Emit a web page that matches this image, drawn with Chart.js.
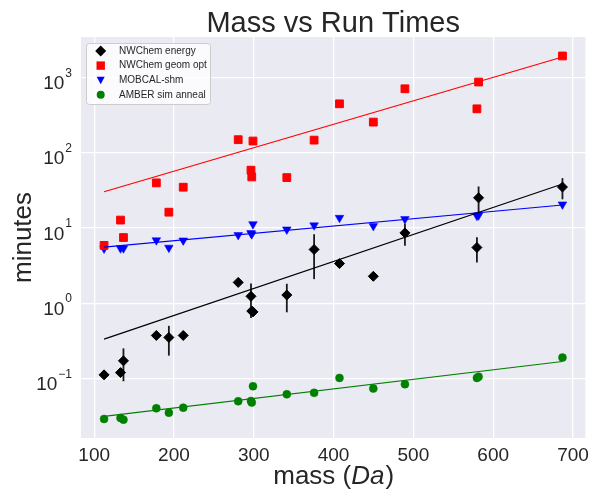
<!DOCTYPE html>
<html>
<head>
<meta charset="utf-8">
<script src="https://cdn.jsdelivr.net/npm/chart.js@4"></script>
<style>
  html, body { margin: 0; padding: 0; background: #fff; }
</style>
</head>
<body>
<canvas id="massChart" width="595" height="489"></canvas>
<script>
// values
var mass = [112.4, 133.0, 136.7, 177.9, 193.6, 211.6, 280.5, 296.5, 297.5, 299.0, 341.4, 375.6, 407.4, 449.8, 489.4, 579.6, 581.7, 686.8];
var energy = [0.112, 0.12, 0.172, 0.374, 0.352, 0.374, 1.9, 1.24, 0.79, 0.77, 1.29, 5.2, 3.38, 2.29, 8.65, 5.53, 25.3, 35.2];
var energyErr = [0, 0, 0.08, 0, 0.15, 0.02, 0, 0.6, 0, 0, 0.53, 3.1, 0, 0, 2.8, 2.05, 10.5, 11];
var geomOpt = [5.9, 12.8, 7.5, 40, 16.3, 35, 150, 59, 48, 144, 47, 148, 450, 257, 713, 386, 877, 1946];
var mobcal = [5.36, 5.4, 5.4, 6.9, 5.5, 6.86, 8.1, 8.6, 8.3, 11.3, 9.6, 10.9, 13.7, 10.7, 13.2, 14.6, 14.8, 20.7];
var amber = [0.029, 0.0299, 0.0284, 0.0402, 0.0352, 0.041, 0.0499, 0.0503, 0.0479, 0.079, 0.0618, 0.0645, 0.102, 0.0736, 0.084, 0.102, 0.106, 0.19];

// fitted trend lines, end points only
var fitMass = [112.4, 686.8];
var fitEnergy = [0.334, 38.6];
var fitGeom = [30.5, 1888];
var fitMobcal = [5.6, 20.3];
var fitAmber = [0.0315, 0.1686];

var xTicks = [100, 200, 300, 400, 500, 600, 700];
var yTicks = [0.1, 1, 10, 100, 1000];
var yTickExp = ['\u22121', '0', '1', '2', '3'];

var seriesNames = ['NWChem energy', 'NWChem geom opt', 'MOBCAL-shm', 'AMBER sim anneal'];

function pts(xs, ys) {
  return xs.map(function (x, i) { return { x: x, y: ys[i] }; });
}

var textColor = '#262626';
var font = '"Liberation Sans", Arial, sans-serif';

var bgPlugin = {
  id: 'bg',
  beforeDraw: function (chart) {
    var ctx = chart.ctx, a = chart.chartArea;
    ctx.save();
    ctx.fillStyle = '#ffffff';
    ctx.fillRect(0, 0, chart.width, chart.height);
    ctx.fillStyle = '#eaeaf2';
    ctx.fillRect(a.left, a.top, a.right - a.left, a.bottom - a.top);
    ctx.restore();
  }
};

var errPlugin = {
  id: 'errbars',
  beforeDatasetsDraw: function (chart) {
    var ctx = chart.ctx, xs = chart.scales.x, ys = chart.scales.y;
    ctx.save();
    ctx.strokeStyle = '#1a1a1a';
    ctx.lineWidth = 1.8;
    for (var i = 0; i < mass.length; i++) {
      if (!energyErr[i]) continue;
      var px = xs.getPixelForValue(mass[i]);
      var lo = Math.max(energy[i] - energyErr[i], 1e-3);
      ctx.beginPath();
      ctx.moveTo(px, ys.getPixelForValue(energy[i] + energyErr[i]));
      ctx.lineTo(px, ys.getPixelForValue(lo));
      ctx.stroke();
    }
    ctx.restore();
  }
};

function marker(ctx, kind, x, y, color) {
  ctx.fillStyle = color;
  ctx.beginPath();
  if (kind === 'diamond') {
    ctx.moveTo(x, y - 5.5); ctx.lineTo(x + 5.5, y); ctx.lineTo(x, y + 5.5); ctx.lineTo(x - 5.5, y);
  } else if (kind === 'square') {
    ctx.rect(x - 4.2, y - 4.2, 8.4, 8.4);
  } else if (kind === 'tri') {
    ctx.moveTo(x - 4, y - 3.5); ctx.lineTo(x + 4, y - 3.5); ctx.lineTo(x, y + 4);
  } else {
    ctx.arc(x, y, 4, 0, Math.PI * 2);
  }
  ctx.closePath();
  ctx.fill();
}

var textPlugin = {
  id: 'texts',
  afterDraw: function (chart) {
    var ctx = chart.ctx, a = chart.chartArea, ys = chart.scales.y;
    var cx = (a.left + a.right) / 2;
    ctx.save();
    ctx.fillStyle = textColor;

    // title
    ctx.font = '29px ' + font;
    ctx.textAlign = 'center';
    ctx.textBaseline = 'alphabetic';
    ctx.fillText('Mass vs Run Times', cx, 32);

    // x label with italic unit
    var p1 = 'mass (', p2 = 'Da', p3 = ')';
    ctx.font = '26px ' + font;
    var w1 = ctx.measureText(p1).width, w3 = ctx.measureText(p3).width;
    ctx.font = 'italic 26px ' + font;
    var w2 = ctx.measureText(p2).width;
    var sx = cx - (w1 + w2 + w3) / 2;
    ctx.textAlign = 'left';
    ctx.font = '26px ' + font;
    ctx.fillText(p1, sx, 484);
    ctx.font = 'italic 26px ' + font;
    ctx.fillText(p2, sx + w1, 484);
    ctx.font = '26px ' + font;
    ctx.fillText(p3, sx + w1 + w2 + 1, 484);

    // y label
    ctx.save();
    ctx.translate(31, (a.top + a.bottom) / 2);
    ctx.rotate(-Math.PI / 2);
    ctx.textAlign = 'center';
    ctx.font = '26px ' + font;
    ctx.fillText('minutes', 0, 0);
    ctx.restore();

    // y tick labels as 10^n
    for (var i = 0; i < yTicks.length; i++) {
      var ty = ys.getPixelForValue(yTicks[i]);
      ctx.font = '12px ' + font;
      var ew = ctx.measureText(yTickExp[i]).width;
      ctx.textAlign = 'left';
      ctx.fillText(yTickExp[i], 72 - ew, ty - 1);
      ctx.font = '19px ' + font;
      ctx.textAlign = 'right';
      ctx.fillText('10', 72 - ew - 1, ty + 11.5);
    }

    // legend
    ctx.fillStyle = 'rgba(255,255,255,0.8)';
    ctx.strokeStyle = '#cccccc';
    ctx.lineWidth = 1;
    ctx.beginPath();
    if (ctx.roundRect) ctx.roundRect(86.5, 43.5, 124, 61, 3); else ctx.rect(86.5, 43.5, 124, 61);
    ctx.fill();
    ctx.stroke();
    var kinds = ['diamond', 'square', 'tri', 'circle'];
    var cols = ['#000000', '#ff0000', '#0000ff', '#008000'];
    ctx.font = '10px ' + font;
    ctx.textAlign = 'left';
    ctx.textBaseline = 'middle';
    for (var k = 0; k < seriesNames.length; k++) {
      var ly = 51 + k * 14.6;
      marker(ctx, kinds[k], 100.7, ly, cols[k]);
      ctx.fillStyle = textColor;
      ctx.fillText(seriesNames[k], 119, ly);
    }
    ctx.restore();
  }
};

var ctx = document.getElementById('massChart');
var massChart = new Chart(ctx, {
  type: 'scatter',
  data: {
    datasets: [
      { label: seriesNames[0], data: pts(mass, energy), pointStyle: 'rectRot', pointRadius: 5, borderWidth: 1,
        backgroundColor: '#000000', borderColor: '#000000', order: 2 },
      { label: seriesNames[1], data: pts(mass, geomOpt), pointStyle: 'rect', pointRadius: 5.5, borderWidth: 1,
        backgroundColor: '#ff0000', borderColor: '#ff0000', order: 2 },
      { label: seriesNames[2], data: pts(mass, mobcal), pointStyle: 'triangle', pointRotation: 180, pointRadius: 5, borderWidth: 0.5,
        backgroundColor: '#0000ff', borderColor: '#0000ff', order: 2 },
      { label: seriesNames[3], data: pts(mass, amber), pointStyle: 'circle', pointRadius: 4, borderWidth: 0.5,
        backgroundColor: '#008000', borderColor: '#008000', order: 2 },
      { type: 'line', data: pts(fitMass, fitEnergy), borderColor: '#000000', borderWidth: 1.2, pointRadius: 0, order: 1 },
      { type: 'line', data: pts(fitMass, fitGeom), borderColor: '#ff0000', borderWidth: 1.2, pointRadius: 0, order: 1 },
      { type: 'line', data: pts(fitMass, fitMobcal), borderColor: '#0000ff', borderWidth: 1.2, pointRadius: 0, order: 1 },
      { type: 'line', data: pts(fitMass, fitAmber), borderColor: '#008000', borderWidth: 1.2, pointRadius: 0, order: 1 }
    ]
  },
  options: {
    responsive: false,
    animation: false,
    devicePixelRatio: 1,
    layout: { padding: { left: 0, right: 3, top: 37, bottom: 0 } },
    plugins: {
      legend: { display: false },
      tooltip: { enabled: false },
      title: { display: false }
    },
    scales: {
      x: {
        type: 'linear',
        min: 83.5,
        max: 715.5,
        afterBuildTicks: function (scale) {
          scale.ticks = xTicks.map(function (v) { return { value: v }; });
        },
        afterFit: function (scale) { scale.height = 51; },
        grid: { color: '#ffffff', lineWidth: 1.3, drawTicks: false },
        border: { display: false },
        ticks: {
          color: textColor,
          padding: 6,
          font: { family: font, size: 19 },
          callback: function (v) { return v; }
        }
      },
      y: {
        type: 'logarithmic',
        min: 0.0162,
        max: 3480,
        afterBuildTicks: function (scale) {
          scale.ticks = yTicks.map(function (v) { return { value: v }; });
        },
        afterFit: function (scale) { scale.width = 81; },
        grid: { color: '#ffffff', lineWidth: 1.3, drawTicks: false },
        border: { display: false },
        ticks: { display: false }
      }
    }
  },
  plugins: [bgPlugin, errPlugin, textPlugin]
});
</script>
</body>
</html>
